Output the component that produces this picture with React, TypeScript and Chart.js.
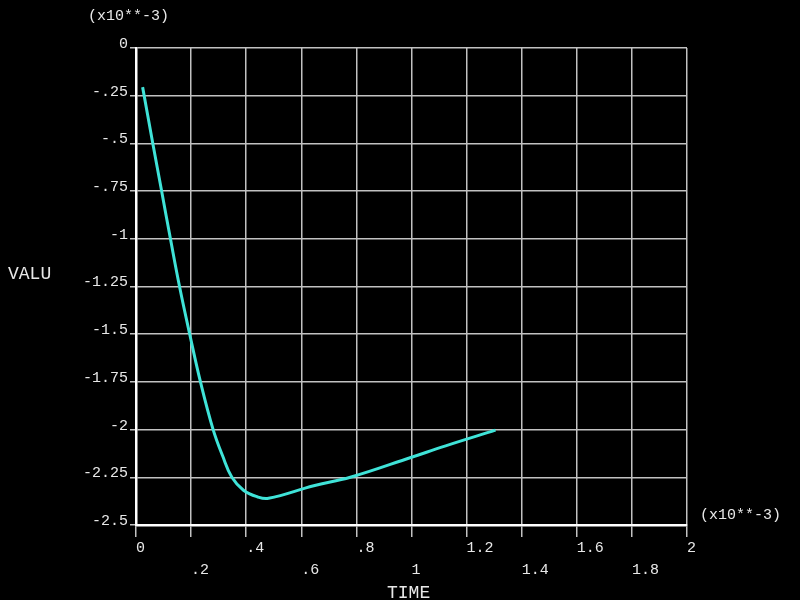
import { useEffect, useRef } from 'react';
import { Chart, registerables } from 'chart.js';

Chart.register(...registerables);

// Data (TIME and VALU both in units of 1e-3)
const timeValues = [0.024, 0.061, 0.093, 0.125, 0.158, 0.195, 0.234, 0.28, 0.315, 0.348, 0.39, 0.44, 0.481, 0.645, 0.778, 1.0, 1.124, 1.305];
const valuValues = [-0.205, -0.5, -0.75, -1.0, -1.25, -1.5, -1.75, -2.0, -2.14, -2.25, -2.318, -2.352, -2.36, -2.294, -2.25, -2.145, -2.085, -2.003];

const xTickValues = [0, 0.2, 0.4, 0.6, 0.8, 1.0, 1.2, 1.4, 1.6, 1.8, 2.0];
const xTickLabels = ['0', '.2', '.4', '.6', '.8', '1', '1.2', '1.4', '1.6', '1.8', '2'];
const yTickValues = [0, -0.25, -0.5, -0.75, -1, -1.25, -1.5, -1.75, -2, -2.25, -2.5];
const yTickLabels = ['0', '-.25', '-.5', '-.75', '-1', '-1.25', '-1.5', '-1.75', '-2', '-2.25', '-2.5'];

const xTitle = 'TIME';
const yTitle = 'VALU';
const multiplierText = '(x10**-3)';

const MONO = '"Liberation Mono", "DejaVu Sans Mono", monospace';
const TEXT_COLOR = '#e8e8e8';
const GRID_COLOR = '#c2c2c2';

const findIndex = (arr: number[], v: number) => {
  let best = 0;
  for (let i = 0; i < arr.length; i++) {
    if (Math.abs(arr[i] - v) < Math.abs(arr[best] - v)) best = i;
  }
  return best;
};

const textPlugin = {
  id: 'ansysText',
  afterDraw(chart: any) {
    const { ctx, chartArea } = chart;
    ctx.save();
    ctx.fillStyle = TEXT_COLOR;
    ctx.textBaseline = 'middle';
    ctx.textAlign = 'left';
    ctx.font = `15px ${MONO}`;
    ctx.fillText(multiplierText, chartArea.left - 48, chartArea.top - 32);
    ctx.fillText(multiplierText, chartArea.right + 13, chartArea.bottom - 10);
    ctx.font = `18px ${MONO}`;
    ctx.fillText(yTitle, 8, 274);
    ctx.fillText(xTitle, 387, 593);
    ctx.restore();
  },
};

export default function App() {
  const canvasRef = useRef<HTMLCanvasElement | null>(null);

  useEffect(() => {
    document.body.style.background = '#000';
    const canvas = canvasRef.current;
    if (!canvas) return;
    const chart = new Chart(canvas, {
      type: 'line',
      data: {
        datasets: [
          {
            data: timeValues.map((t, i) => ({ x: t, y: valuValues[i] })),
            borderColor: '#3fe3d8',
            borderWidth: 3,
            pointRadius: 0,
            tension: 0.4,
            fill: false,
          },
        ],
      },
      options: {
        animation: false,
        responsive: false,
        devicePixelRatio: 1,
        layout: { padding: { left: 76, top: 48, right: 113, bottom: 15 } },
        plugins: { legend: { display: false }, tooltip: { enabled: false } },
        scales: {
          x: {
            type: 'linear',
            min: 0,
            max: 2,
            afterBuildTicks: (scale: any) => {
              scale.ticks = xTickValues.map((v) => ({ value: v }));
            },
            afterFit: (scale: any) => {
              scale.height = 60;
            },
            grid: { color: GRID_COLOR, lineWidth: 1.5, tickLength: 12, drawTicks: true },
            border: { color: '#ffffff', width: 2.5 },
            ticks: {
              color: TEXT_COLOR,
              font: { family: MONO, size: 15, lineHeight: 22 / 15 },
              align: 'start',
              padding: 0,
              maxRotation: 0,
              autoSkip: false,
              callback: (value: any) => {
                const i = findIndex(xTickValues, Number(value));
                return i % 2 === 1 ? ['', xTickLabels[i]] : xTickLabels[i];
              },
            },
          },
          y: {
            type: 'linear',
            min: -2.5,
            max: 0,
            afterBuildTicks: (scale: any) => {
              scale.ticks = yTickValues.slice().reverse().map((v) => ({ value: v }));
            },
            afterFit: (scale: any) => {
              scale.width = 60;
            },
            grid: { color: GRID_COLOR, lineWidth: 1.5, tickLength: 6, drawTicks: true },
            border: { color: '#ffffff', width: 2.5 },
            ticks: {
              color: TEXT_COLOR,
              font: { family: MONO, size: 15 },
              padding: 2,
              labelOffset: -4,
              autoSkip: false,
              callback: (value: any) => yTickLabels[findIndex(yTickValues, Number(value))],
            },
          },
        },
      },
      plugins: [textPlugin],
    } as any);
    return () => chart.destroy();
  }, []);

  return (
    <div style={{ position: 'absolute', left: 0, top: 0, width: 800, height: 600, background: '#000' }}>
      <canvas ref={canvasRef} width={800} height={600} style={{ display: 'block', width: 800, height: 600 }} />
    </div>
  );
}
